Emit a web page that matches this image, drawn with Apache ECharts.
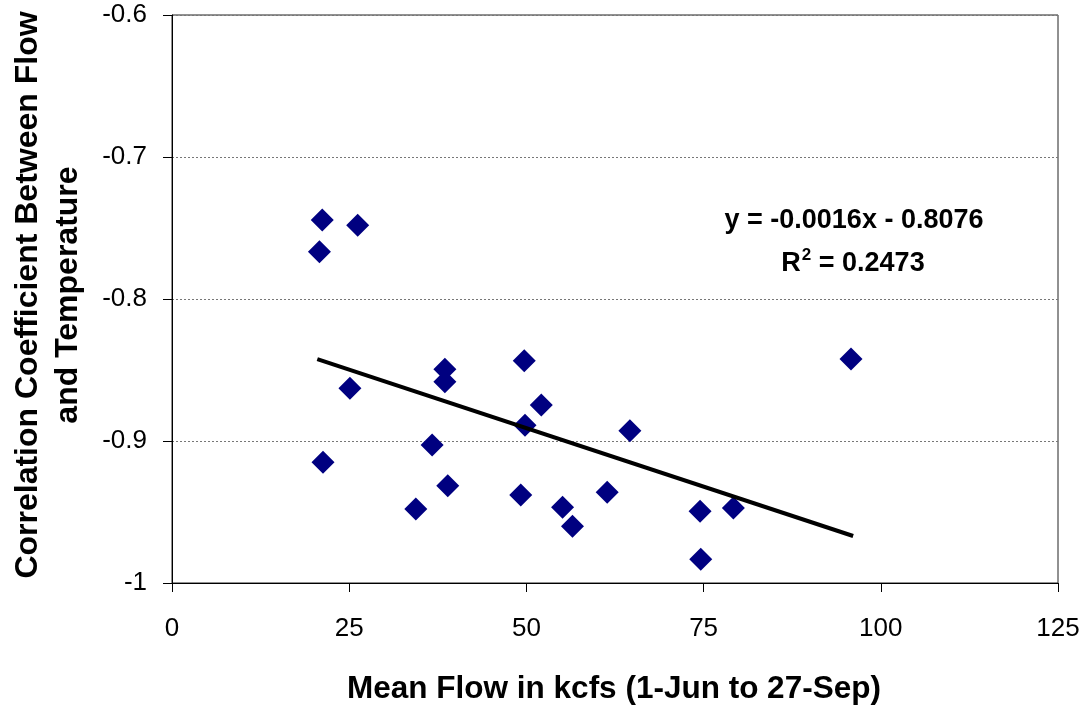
<!DOCTYPE html>
<html>
<head>
<meta charset="utf-8">
<script src="https://cdn.jsdelivr.net/npm/echarts@6/dist/echarts.min.js"></script>
<style>
html,body{margin:0;padding:0;background:#fff;}
#main{width:1086px;height:709px;}
</style>
</head>
<body>
<div id="main"></div>
<script>
// Mean flow (kcfs)
const flowValues = [21.2, 26.2, 20.8, 25.1, 21.3, 34.4, 36.7, 38.5, 38.5, 38.9, 49.7, 49.8, 52.1, 49.2, 55.1, 56.5, 61.4, 64.6, 74.5, 74.6, 79.2, 95.8];
// Correlation coefficient between flow and temperature
const corrValues = [-0.7444, -0.7481, -0.7667, -0.8629, -0.9150, -0.9479, -0.9028, -0.8495, -0.8582, -0.9315, -0.8435, -0.8889, -0.8746, -0.9380, -0.9467, -0.9601, -0.9361, -0.8927, -0.9495, -0.9833, -0.9472, -0.8423];
// Trend line end points (as drawn)
const trendX = [20.5, 96.1];
const trendY = [-0.8423, -0.9669];
const xTicks = [0, 25, 50, 75, 100, 125];
const yTicks = [-1, -0.9, -0.8, -0.7, -0.6];
const equationText = 'y = -0.0016x - 0.8076';
const r2Text = '0.2473';

const points = flowValues.map((x, i) => [x, corrValues[i]]);
const trend = trendX.map((x, i) => [x, trendY[i]]);

const chart = echarts.init(document.getElementById('main'));
const font = '"Liberation Sans", Arial, sans-serif';
chart.setOption({
  animation: false,
  backgroundColor: '#fff',
  grid: {left: 172, right: 28, top: 15, bottom: 126, show: true, borderColor: '#222', borderWidth: 1, backgroundColor: 'transparent'},
  xAxis: {
    type: 'value', min: xTicks[0], max: xTicks[xTicks.length - 1], interval: 25,
    axisLine: {show: true, lineStyle: {color: '#000', width: 1}},
    axisTick: {show: true, length: 9, inside: false, lineStyle: {color: '#000'}},
    axisLabel: {fontFamily: font, fontSize: 26, color: '#000', margin: 33},
    splitLine: {show: false}
  },
  yAxis: {
    type: 'value', min: yTicks[0], max: yTicks[yTicks.length - 1], interval: 0.1,
    axisLine: {show: true, onZero: false, lineStyle: {color: '#000', width: 1}},
    axisTick: {show: true, length: 9, lineStyle: {color: '#000'}},
    axisLabel: {fontFamily: font, fontSize: 26, color: '#000', margin: 25,
      formatter: v => (Math.round(v * 10) / 10).toString()},
    splitLine: {show: true, lineStyle: {color: '#777', type: [2, 2], width: 1}}
  },
  series: [
    {
      type: 'line', data: trend, symbol: 'none', silent: true,
      lineStyle: {color: '#000', width: 4}, z: 3
    },
    {
      type: 'scatter', data: points, symbol: 'diamond', symbolSize: 23,
      itemStyle: {color: '#000080', opacity: 1}, z: 2
    }
  ],
  graphic: [
    {type: 'text', x: 28, y: 295, rotation: Math.PI / 2, originX: 0, originY: 0,
      style: {text: 'Correlation Coefficient Between Flow', fontFamily: font, fontSize: 32, fontWeight: 'bold', fill: '#000', align: 'center', verticalAlign: 'middle'}},
    {type: 'text', x: 68, y: 295, rotation: Math.PI / 2, originX: 0, originY: 0,
      style: {text: 'and Temperature', fontFamily: font, fontSize: 32, fontWeight: 'bold', fill: '#000', align: 'center', verticalAlign: 'middle'}},
    {type: 'text', x: 614, y: 689,
      style: {text: 'Mean Flow in kcfs (1-Jun to 27-Sep)', fontFamily: font, fontSize: 31.5, fontWeight: 'bold', fill: '#000', align: 'center', verticalAlign: 'middle'}},
    {type: 'text', x: 854, y: 221,
      style: {text: equationText, fontFamily: font, fontSize: 27, fontWeight: 'bold', fill: '#000', align: 'center', verticalAlign: 'middle'}},
    {type: 'text', x: 853, y: 262,
      style: {text: '{b|R}{s|2}{b| = ' + r2Text + '}', align: 'center', verticalAlign: 'middle',
        rich: {
          b: {fontFamily: font, fontSize: 27, fontWeight: 'bold', fill: '#000', color: '#000', verticalAlign: 'bottom'},
          s: {fontFamily: font, fontSize: 17, fontWeight: 'bold', fill: '#000', color: '#000', verticalAlign: 'top', padding: [0, 0, 14, 1]}
        }}}
  ]
});
</script>
</body>
</html>
